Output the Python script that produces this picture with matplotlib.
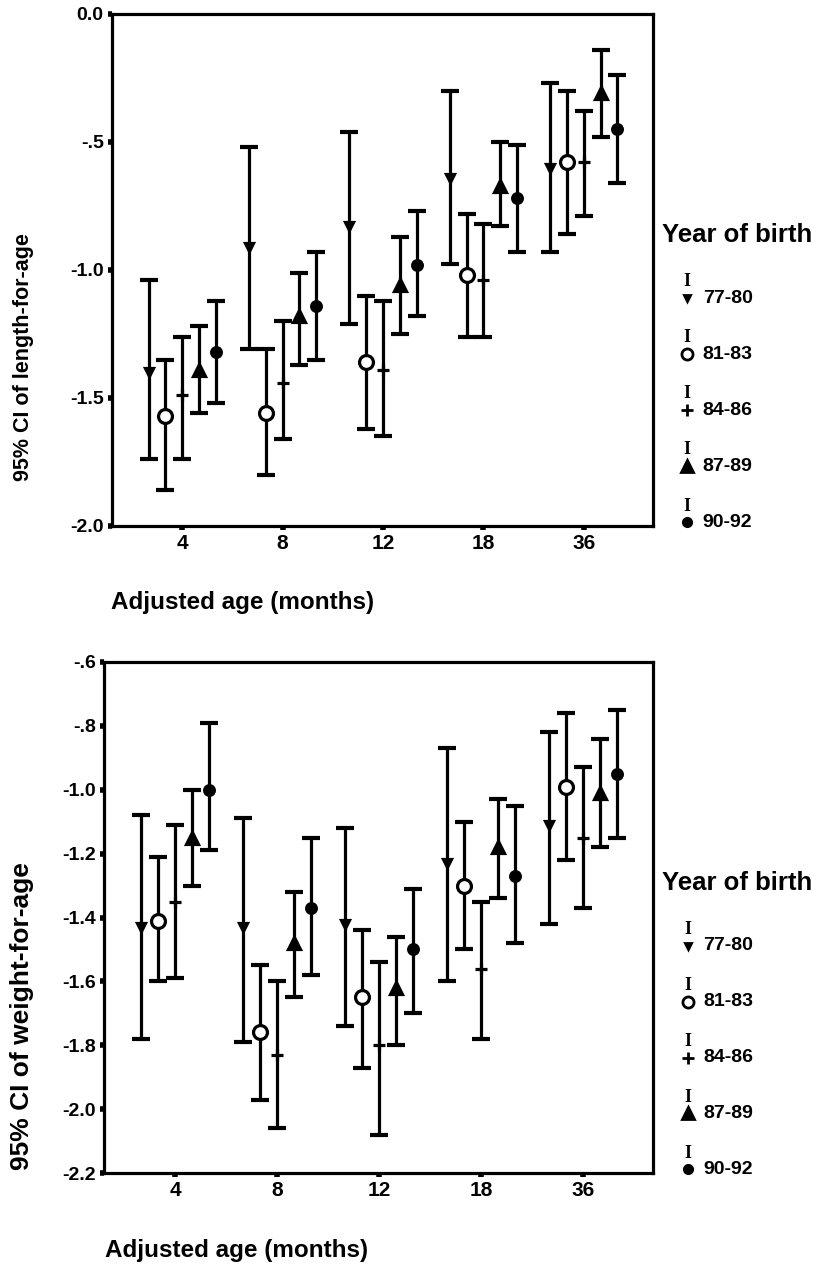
import numpy as np
import matplotlib
matplotlib.use("Agg")
import matplotlib.pyplot as plt

plt.rcParams['font.family'] = ['Liberation Sans', 'DejaVu Sans']
plt.rcParams['font.weight'] = 'bold'

# ---------- data ----------
ages = ['4', '8', '12', '18', '36']
cohorts = ['77-80', '81-83', '84-86', '87-89', '90-92']

# length-for-age: rows = cohort, cols = age
length_mean = [[-1.40, -0.91, -0.83, -0.64, -0.60],
               [-1.57, -1.56, -1.36, -1.02, -0.58],
               [-1.49, -1.44, -1.39, -1.04, -0.58],
               [-1.39, -1.18, -1.06, -0.67, -0.31],
               [-1.32, -1.14, -0.98, -0.72, -0.45]]
length_hi = [[-1.04, -0.52, -0.46, -0.30, -0.27],
             [-1.35, -1.31, -1.10, -0.78, -0.30],
             [-1.26, -1.20, -1.12, -0.82, -0.38],
             [-1.22, -1.01, -0.87, -0.50, -0.14],
             [-1.12, -0.93, -0.77, -0.51, -0.24]]
length_lo = [[-1.74, -1.31, -1.21, -0.975, -0.93],
             [-1.86, -1.80, -1.62, -1.26, -0.86],
             [-1.74, -1.66, -1.65, -1.26, -0.79],
             [-1.56, -1.37, -1.25, -0.83, -0.48],
             [-1.52, -1.35, -1.18, -0.93, -0.66]]

# weight-for-age
weight_mean = [[-1.43, -1.43, -1.42, -1.23, -1.11],
               [-1.41, -1.76, -1.65, -1.30, -0.99],
               [-1.35, -1.83, -1.80, -1.56, -1.15],
               [-1.15, -1.48, -1.62, -1.18, -1.01],
               [-1.00, -1.37, -1.50, -1.27, -0.95]]
weight_hi = [[-1.08, -1.09, -1.12, -0.87, -0.82],
             [-1.21, -1.55, -1.44, -1.10, -0.76],
             [-1.11, -1.60, -1.54, -1.35, -0.93],
             [-1.00, -1.32, -1.46, -1.03, -0.84],
             [-0.79, -1.15, -1.31, -1.05, -0.75]]
weight_lo = [[-1.78, -1.79, -1.74, -1.60, -1.42],
             [-1.60, -1.97, -1.87, -1.50, -1.22],
             [-1.59, -2.06, -2.08, -1.78, -1.37],
             [-1.30, -1.65, -1.80, -1.34, -1.18],
             [-1.19, -1.58, -1.70, -1.48, -1.15]]

length_ticks = [0.0, -0.5, -1.0, -1.5, -2.0]
length_ticklabels = ['0.0', '-.5', '-1.0', '-1.5', '-2.0']
weight_ticks = [-0.6, -0.8, -1.0, -1.2, -1.4, -1.6, -1.8, -2.0, -2.2]
weight_ticklabels = ['-.6', '-.8', '-1.0', '-1.2', '-1.4', '-1.6', '-1.8', '-2.0', '-2.2']

# marker style per cohort: (marker, size, face)
mstyle = [('v', 6, 'black'),
          ('o', 10, 'white'),
          ('+', 9, 'black'),
          ('^', 9, 'black'),
          ('o', 7, 'black')]
leg_ms = [5, 8, 8, 8, 6]

W, H = 817, 1269
fig = plt.figure(figsize=(W / 100, H / 100), dpi=100)


def px_axes(left, right, top, bottom):
    return fig.add_axes([left / W, 1 - bottom / H, (right - left) / W, (bottom - top) / H])


def draw_panel(ax, mean, lo, hi, ticks, ticklabels):
    step = 0.167
    for k in range(len(cohorts)):
        x = np.arange(len(ages)) + (k - 2) * step
        m = np.array(mean[k])
        err = [m - np.array(lo[k]), np.array(hi[k]) - m]
        ax.errorbar(x, m, yerr=err, fmt='none', ecolor='black',
                    elinewidth=2.3, capsize=6.5, capthick=3)
        mk, ms, fc = mstyle[k]
        ax.plot(x, m, linestyle='none', marker=mk, markersize=ms,
                markerfacecolor=fc, markeredgecolor='black', markeredgewidth=2.3)
    ax.set_xlim(-0.7, 4.69)
    ax.set_ylim(ticks[-1], ticks[0])
    ax.set_xticks(range(len(ages)))
    ax.set_xticklabels(ages, fontsize=15)
    ax.set_yticks(ticks)
    ax.set_yticklabels(ticklabels, fontsize=14)
    ax.tick_params(direction='out', length=3, width=4, pad=3)
    for s in ax.spines.values():
        s.set_linewidth(2.3)

    # legend, drawn by hand like the SPSS original
    ax.text(1.017, 0.568, 'Year of birth', transform=ax.transAxes,
            fontsize=18.5, va='center', ha='left')
    for k, lab in enumerate(cohorts):
        y = 0.445 - k * 0.1095
        mk, ms, fc = mstyle[k]
        ax.plot([1.063], [y], transform=ax.transAxes, clip_on=False,
                linestyle='none', marker=mk, markersize=leg_ms[k],
                markerfacecolor=fc, markeredgecolor='black', markeredgewidth=2)
        ax.text(1.063, y + 0.032, 'I', transform=ax.transAxes, fontsize=13,
                family='Liberation Serif', weight='bold', ha='center', va='center')
        ax.text(1.092, y, lab, transform=ax.transAxes, fontsize=14,
                va='center', ha='left')


ax1 = px_axes(112, 653, 14, 526)
draw_panel(ax1, length_mean, length_lo, length_hi, length_ticks, length_ticklabels)
fig.text(24 / W, 1 - 357 / H, '95% CI of length-for-age', rotation=90,
         fontsize=15.5, ha='center', va='center')
fig.text(243 / W, 1 - 602 / H, 'Adjusted age (months)', fontsize=17.5,
         ha='center', va='center')

ax2 = px_axes(104, 653, 662, 1173)
draw_panel(ax2, weight_mean, weight_lo, weight_hi, weight_ticks, weight_ticklabels)
fig.text(22 / W, 1 - 1016 / H, '95% CI of weight-for-age', rotation=90,
         fontsize=19, ha='center', va='center')
fig.text(237 / W, 1 - 1250 / H, 'Adjusted age (months)', fontsize=17.5,
         ha='center', va='center')

fig.savefig('out.png', dpi=100)
